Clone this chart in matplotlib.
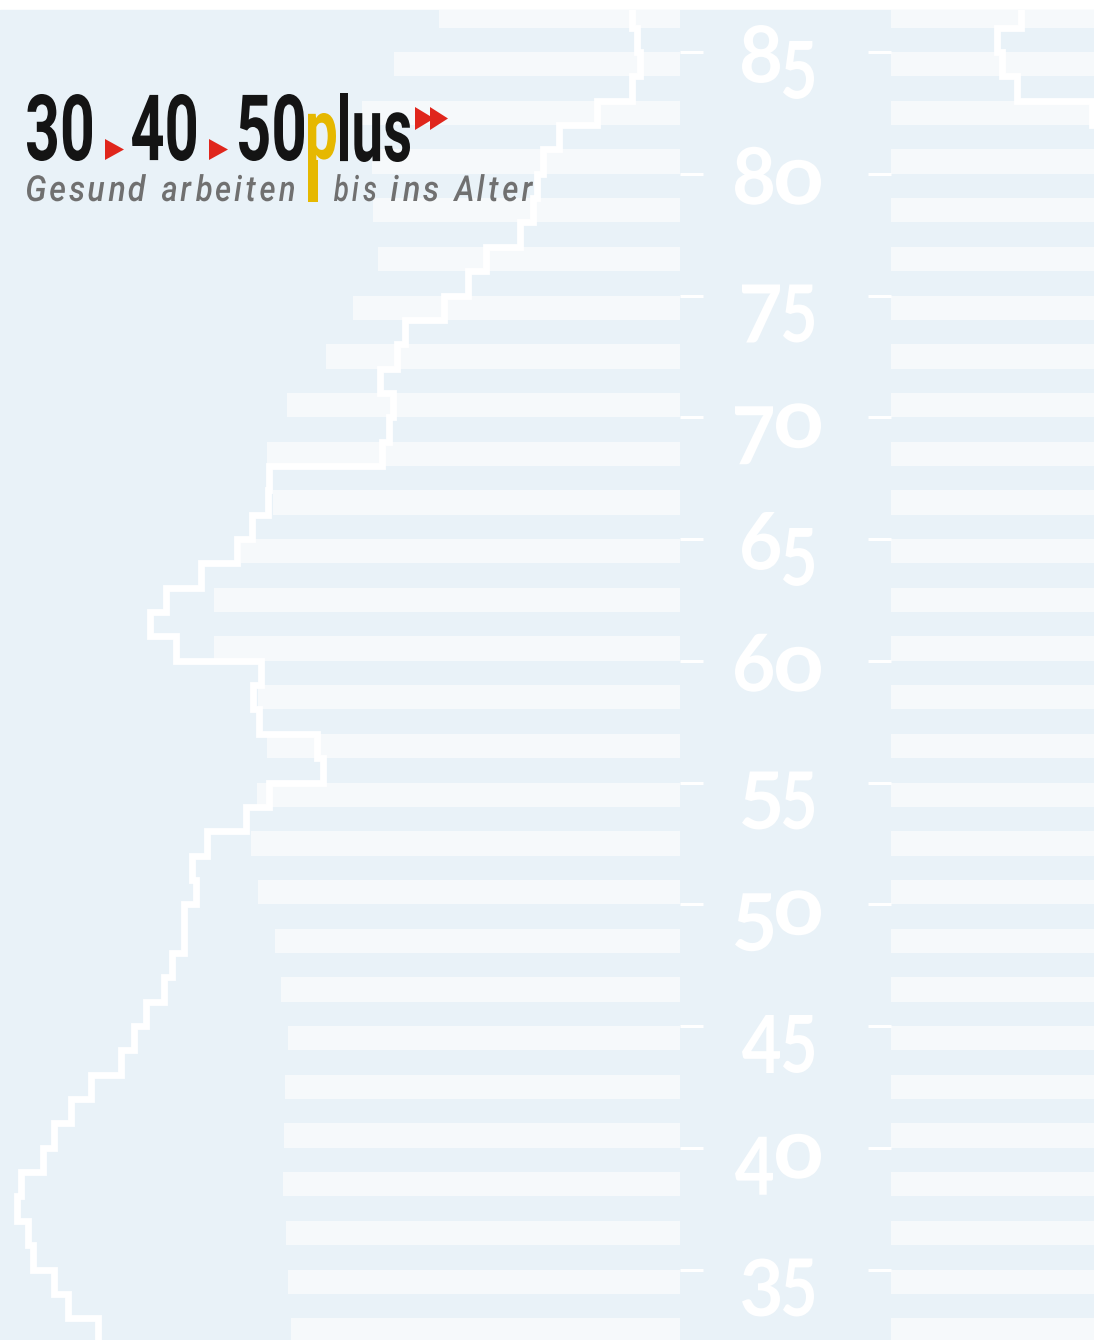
import numpy as np
import matplotlib.pyplot as plt
from matplotlib.textpath import TextPath
from matplotlib.font_manager import FontProperties
from matplotlib.patches import PathPatch, Polygon, Rectangle
from matplotlib.transforms import Affine2D

W, H = 1094, 1340
BG = "#e9f2f8"
BAR = "#f6f9fb"
RED = "#e0261c"
YELLOW = "#e6b800"

# even ages get a bar (lengths in chart units)
bar_ages = np.arange(32, 88, 2)
men_bars = [389, 392, 394, 397, 396, 395, 392, 399, 405, 422, 429, 423, 413, 422,
            466, 466, 439, 407, 413, 393, 354, 327, 302, 307, 308, 318, 286, 241]
women_bars = [380, 382, 384, 388, 387, 386, 384, 392, 398, 415, 422, 418, 410, 420,
              468, 470, 448, 420, 430, 415, 390, 375, 360, 380, 395, 410, 400, 380]

# outline series, one value per age 31..87
line_edges = np.arange(31, 89)
men_line = [535, 582, 612, 626, 647, 652, 663, 659, 637, 626, 609, 589, 559, 546,
            534, 516, 508, 496, 496, 484, 488, 473, 434, 411, 357, 363, 421, 427,
            419, 504, 530, 514, 479, 443, 428, 412, 411, 298, 291, 287, 300, 283,
            275, 236, 212, 194, 160, 147, 143, 137, 121, 83, 48, 40, 43, 48, 48]
women_line = [520, 560, 590, 610, 630, 640, 650, 645, 625, 615, 600, 580, 555, 540,
              530, 515, 505, 495, 495, 485, 490, 480, 450, 430, 400, 410, 450, 460,
              455, 520, 540, 530, 500, 470, 455, 440, 440, 360, 355, 350, 355, 340,
              330, 300, 285, 270, 250, 240, 235, 228, 222, 201, 126, 111, 106, 130, 130]

age_ticks = list(range(35, 90, 5))

px_year = 24.35
y_top = 85 + (52 - 10) / px_year
y_bot = 85 - (H - 52) / px_year
top = (H - 10) / H

fig = plt.figure(figsize=(W / 100, H / 100), dpi=100, facecolor="white")
fig.add_artist(Rectangle((0, 0), 1, top, transform=fig.transFigure, color=BG, zorder=0))

axL = fig.add_axes([0, 0, 680 / W, top])
axR = fig.add_axes([891 / W, 0, 203 / W, top])

for ax in (axL, axR):
    ax.set_facecolor("none")
    ax.set_ylim(y_bot, y_top)
    ax.set_xticks([])
    ax.set_yticks(age_ticks)
    for s in ax.spines.values():
        s.set_visible(False)

axL.set_xlim(680, 0)
axR.set_xlim(0, 203)

axL.barh(bar_ages, men_bars, height=1, align="edge", color=BAR, lw=0)
axR.barh(bar_ages, women_bars, height=1, align="edge", color=BAR, lw=0)

for ax, vals in ((axL, men_line), (axR, women_line)):
    st = ax.stairs(vals, line_edges, orientation="horizontal", baseline=None,
                   color="white", lw=4.9)
    st.set_joinstyle("miter")

axL.yaxis.tick_right()
axL.tick_params(axis="y", direction="out", length=16.6, width=2.2, color="white",
                labelright=False, labelleft=False)
axR.yaxis.tick_left()
axR.tick_params(axis="y", direction="out", length=16.6, width=2.2, color="white",
                labelleft=False)

# overlay in pixel units (y downwards) for labels and logo
axT = fig.add_axes([0, 0, 1, 1])
axT.set_xlim(0, W)
axT.set_ylim(H, 0)
axT.axis("off")


def fit_text(s, box, color, prop):
    x0, y0, x1, y1 = box
    tp = TextPath((0, 0), s, size=100, prop=prop)
    ext = tp.get_extents()
    sx = (x1 - x0) / ext.width
    sy = (y1 - y0) / ext.height
    tr = Affine2D().translate(-ext.x0, -ext.y0).scale(sx, -sy).translate(x0, y1)
    axT.add_patch(PathPatch(tp, transform=tr + axT.transData, fc=color, lw=0))


def tracked_word(s, x0, x1, ybase, cap, color, prop, gap=4.5):
    # letter-spaced word: fixed gap, glyph width squeezed to fill x0..x1
    capH = TextPath((0, 0), "H", size=100, prop=prop).get_extents().height
    sy = cap / capH
    paths = [TextPath((0, 0), c, size=100, prop=prop) for c in s]
    exts = [p.get_extents() for p in paths]
    sx = (x1 - x0 - gap * (len(s) - 1)) / sum(e.width for e in exts)
    x = x0
    for p, e in zip(paths, exts):
        tr = Affine2D().translate(-e.x0, 0).scale(sx, -sy).translate(x, ybase)
        axT.add_patch(PathPatch(p, transform=tr + axT.transData, fc=color, lw=0))
        x += e.width * sx + gap


# age labels with old-style figures
num = FontProperties(family="Lato", weight="bold")
for a in age_ticks:
    t = H - axL.transData.transform((0, a))[1]
    tens, units = str(a)
    left = 742 if units == "5" else 735
    if tens in "3457":
        fit_text(tens, (left, t - 11, left + 38, t + 47), "white", num)
    else:
        fit_text(tens, (left, t - 27, left + 38, t + 31), "white", num)
    if units == "5":
        fit_text("5", (left + 41, t - 11, left + 72, t + 47), "white", num)
    else:
        fit_text("o", (left + 41, t - 14, left + 86, t + 31), "white", num)

# logo
bold = FontProperties(family="Roboto", weight="bold")
ital = FontProperties(family="Roboto", style="italic", weight="medium")

fit_text("30", (27, 94, 92, 161), "#141414", bold)
fit_text("40", (132, 94, 196, 161), "#141414", bold)
fit_text("50", (239, 94, 304, 161), "#141414", bold)
fit_text("p", (308, 113, 336, 176), YELLOW, bold)
axT.add_patch(Rectangle((308, 160), 10, 42, color=YELLOW, lw=0))
fit_text("lus", (340, 93, 410, 162), "#141414", bold)

for x0 in (105, 209):
    axT.add_patch(Polygon([(x0, 139), (x0, 160), (x0 + 19, 149.5)], color=RED, lw=0))
axT.add_patch(Polygon([(415, 107), (415, 130), (434, 118.5)], color=RED, lw=0))
axT.add_patch(Polygon([(430, 107), (430, 130), (448, 118.5)], color=RED, lw=0))

grey = "#707070"
for word, x0, x1 in (("Gesund", 27, 146), ("arbeiten", 162, 294), ("bis", 334, 376),
                     ("ins", 391, 438), ("Alter", 453, 533)):
    tracked_word(word, x0, x1, 201, 25.5, grey, ital)

fig.savefig("out.png", dpi=100, facecolor="white")
